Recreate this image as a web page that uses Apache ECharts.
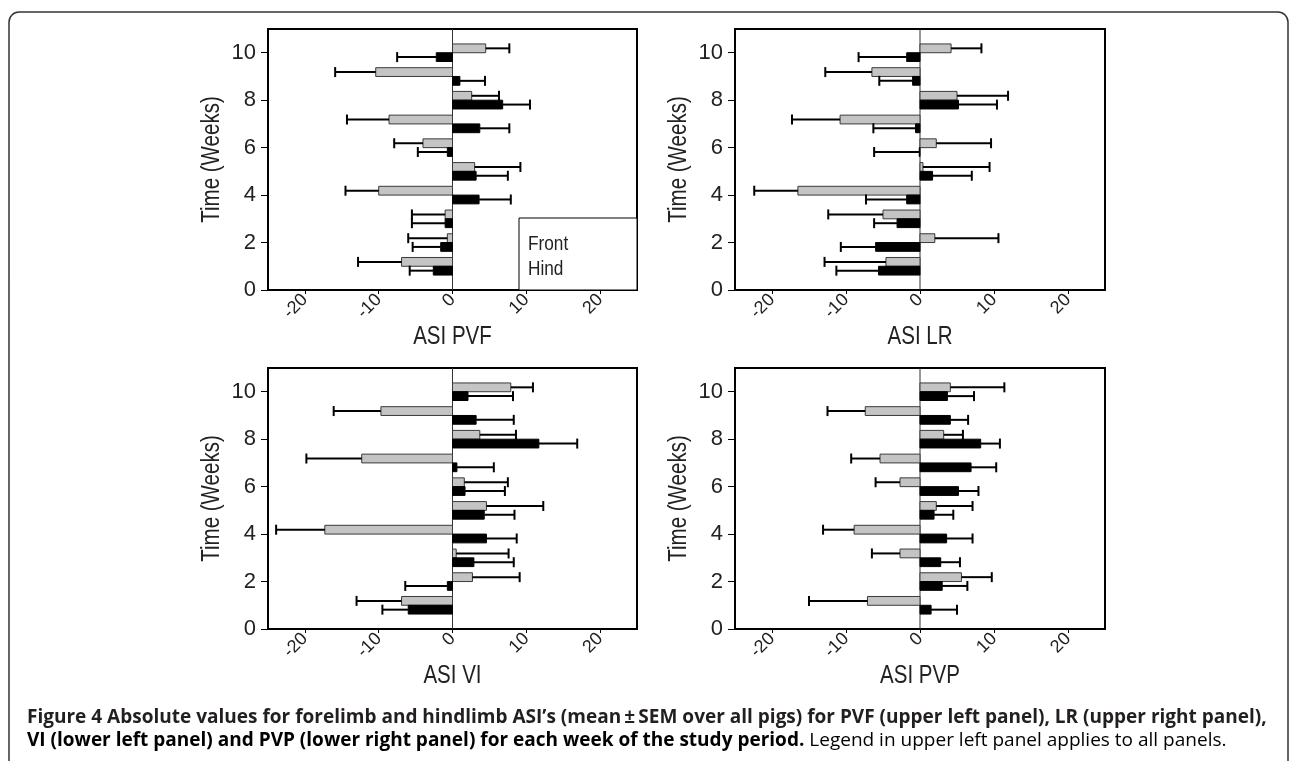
<!DOCTYPE html>
<html>
<head>
<meta charset="utf-8">
<script src="https://cdn.jsdelivr.net/npm/echarts@6/dist/echarts.min.js"></script>
<style>
html,body{margin:0;padding:0;background:#fff;}
#chart{width:1292px;height:761px;}
</style>
</head>
<body>
<div id="chart"></div>
<script>
// ---- data ----
const weeks = [1, 2, 3, 4, 5, 6, 7, 8, 9, 10];
const xTicks = [-20, -10, 0, 10, 20];
const yTicks = [0, 2, 4, 6, 8, 10];
const panelTitles = ['ASI PVF', 'ASI LR', 'ASI VI', 'ASI PVP'];
const yTitle = 'Time (Weeks)';
const legendNames = ['Front', 'Hind'];

const pvfFront    = [-6.9, -0.7, -1.0, -10.0, 3.0, -4.0, -8.6, 2.6, -10.4, 4.5];
const pvfFrontErr = [5.9, 5.3, 4.5, 4.5, 6.2, 3.9, 5.7, 3.7, 5.5, 3.2];
const pvfHind     = [-2.6, -1.6, -1.0, 3.6, 3.2, -0.7, 3.7, 6.8, 1.0, -2.2];
const pvfHindErr  = [3.2, 3.8, 4.5, 4.3, 4.3, 4.0, 4.0, 3.7, 3.4, 5.3];

const lrFront     = [-4.6, 2.0, -5.0, -16.5, 0.4, 2.2, -10.8, 5.0, -6.5, 4.2];
const lrFrontErr  = [8.3, 8.6, 7.4, 5.9, 9.0, 7.4, 6.5, 6.9, 6.3, 4.1];
const lrHind      = [-5.6, -6.0, -3.1, -1.8, 1.7, -0.1, -0.6, 5.2, -1.0, -1.8];
const lrHindErr   = [5.7, 4.7, 3.1, 5.5, 5.3, 6.1, 5.7, 5.2, 4.5, 6.5];

const viFront     = [-6.9, 2.7, 0.5, -17.3, 4.6, 1.6, -12.3, 3.7, -9.7, 7.9];
const viFrontErr  = [6.1, 6.4, 7.1, 6.6, 7.7, 5.9, 7.5, 4.9, 6.4, 3.0];
const viHind      = [-6.0, -0.7, 2.9, 4.6, 4.3, 1.7, 0.6, 11.7, 3.2, 2.1];
const viHindErr   = [3.5, 5.7, 5.4, 4.1, 4.1, 5.4, 5.0, 5.2, 5.1, 6.1];

const pvpFront    = [-7.1, 5.6, -2.7, -8.9, 2.2, -2.7, -5.4, 3.2, -7.4, 4.1];
const pvpFrontErr = [7.9, 4.1, 3.8, 4.2, 4.9, 3.3, 3.9, 2.6, 5.1, 7.3];
const pvpHind     = [1.5, 3.0, 2.8, 3.6, 1.9, 5.2, 6.9, 8.2, 4.1, 3.7];
const pvpHindErr  = [3.5, 3.4, 2.6, 3.5, 2.6, 2.7, 3.4, 2.6, 2.4, 3.6];

const panels = [
  {front: pvfFront, frontErr: pvfFrontErr, hind: pvfHind, hindErr: pvfHindErr},
  {front: lrFront, frontErr: lrFrontErr, hind: lrHind, hindErr: lrHindErr},
  {front: viFront, frontErr: viFrontErr, hind: viHind, hindErr: viHindErr},
  {front: pvpFront, frontErr: pvpFrontErr, hind: pvpHind, hindErr: pvpHindErr}
];

// ---- styling / layout ----
const SANS = "'Liberation Sans', Arial, sans-serif";
const NARROW_SCALE = 0.82;   // reference uses a narrow face
const BAR_T = 0.37;          // bar thickness in week units
const gridPos = [
  {left: 268, top: 29, width: 369, height: 261},
  {left: 735, top: 29, width: 370, height: 261},
  {left: 268, top: 368, width: 369, height: 261},
  {left: 735, top: 368, width: 370, height: 261}
];

function makeRender(isFront) {
  return function (params, api) {
    const w = api.value(0), v = api.value(1), e = api.value(2);
    const y0 = isFront ? w : w - BAR_T;
    const y1 = isFront ? w + BAR_T : w;
    const pA = api.coord([0, y1]);
    const pB = api.coord([v, y0]);
    const yc = api.coord([0, (y0 + y1) / 2])[1];
    const sgn = v < 0 ? -1 : 1;
    const xe0 = api.coord([v, 0])[0];
    const xe1 = api.coord([v + sgn * e, 0])[0];
    return {
      type: 'group',
      children: [
        {type: 'rect', shape: {x: Math.min(pA[0], pB[0]), y: pA[1], width: Math.abs(pB[0] - pA[0]), height: pB[1] - pA[1]},
         style: {fill: isFront ? '#c4c4c4' : '#000', stroke: isFront ? '#3a3a3a' : '#000', lineWidth: 1}},
        {type: 'line', shape: {x1: xe0, y1: yc, x2: xe1, y2: yc}, style: {stroke: '#000', lineWidth: 2}},
        {type: 'line', shape: {x1: xe1, y1: yc - 5, x2: xe1, y2: yc + 5}, style: {stroke: '#000', lineWidth: 2}}
      ]
    };
  };
}

const grids = [], xAxes = [], yAxes = [], series = [], titleGraphics = [];
panels.forEach((p, i) => {
  const g = gridPos[i];
  grids.push(Object.assign({show: true, borderColor: '#000', borderWidth: 2, backgroundColor: 'transparent'}, g));
  xAxes.push({
    type: 'value', gridIndex: i, min: -25, max: 25,
    axisLine: {show: true, onZero: false, lineStyle: {color: '#000', width: 2}},
    axisTick: {show: true, length: 4, customValues: xTicks, lineStyle: {color: '#000', width: 1}},
    axisLabel: {customValues: xTicks, rotate: 45, margin: 7, fontFamily: SANS, fontSize: 18, color: '#222'},
    splitLine: {show: false}
  });
  yAxes.push({
    type: 'value', gridIndex: i, min: 0, max: 11,
    axisLine: {show: true, onZero: false, lineStyle: {color: '#000', width: 2}},
    axisTick: {show: true, length: 7, customValues: yTicks, lineStyle: {color: '#000', width: 1}},
    axisLabel: {customValues: yTicks, margin: 12, fontFamily: SANS, fontSize: 22, color: '#222'},
    splitLine: {show: false}
  });
  series.push({
    type: 'line', xAxisIndex: i, yAxisIndex: i, data: [[0, 0], [0, 11]],
    symbol: 'none', silent: true, lineStyle: {color: '#333', width: 1}, z: 1
  });
  series.push({
    name: legendNames[0], type: 'custom', xAxisIndex: i, yAxisIndex: i,
    renderItem: makeRender(true), encode: {x: 1, y: 0},
    data: weeks.map((w, k) => [w, p.front[k], p.frontErr[k]]), z: 3
  });
  series.push({
    name: legendNames[1], type: 'custom', xAxisIndex: i, yAxisIndex: i,
    renderItem: makeRender(false), encode: {x: 1, y: 0},
    data: weeks.map((w, k) => [w, p.hind[k], p.hindErr[k]]), z: 3
  });
  // axis titles (narrow face emulated with horizontal scale)
  titleGraphics.push({
    type: 'text', x: g.left + g.width / 2, y: g.top + g.height + 47, scaleX: NARROW_SCALE, silent: true,
    style: {text: panelTitles[i], font: '25px ' + SANS, fill: '#222', align: 'center', verticalAlign: 'middle'}
  });
  titleGraphics.push({
    type: 'text', x: g.left - 56, y: g.top + g.height / 2, rotation: Math.PI / 2, scaleX: NARROW_SCALE, silent: true,
    style: {text: yTitle, font: '25px ' + SANS, fill: '#222', align: 'center', verticalAlign: 'middle'}
  });
});

// caption: pick the size that makes line 1 span its width in the reference
const capLine1 = 'Figure 4 Absolute values for forelimb and hindlimb ASI\u2019s (mean\u2009\u00b1\u2009SEM over all pigs) for PVF (upper left panel), LR (upper right panel),';
const capLine2a = 'VI (lower left panel) and PVP (lower right panel) for each week of the study period.';
const capLine2b = ' Legend in upper left panel applies to all panels.';
const CAP_FONT = "'Open Sans', 'Noto Sans', sans-serif";
const ctx = document.createElement('canvas').getContext('2d');
ctx.font = 'bold 100px ' + CAP_FONT;
const capSize = Math.max(10, Math.min(20, 1240 / ctx.measureText(capLine1).width * 100));

const chart = echarts.init(document.getElementById('chart'), null, {renderer: 'canvas'});
chart.setOption({
  animation: false,
  backgroundColor: '#fff',
  grid: grids, xAxis: xAxes, yAxis: yAxes, series: series,
  graphic: titleGraphics.concat([
    {type: 'rect', shape: {x: 9, y: 12, width: 1279, height: 800, r: 10}, style: {fill: 'none', stroke: '#333', lineWidth: 1.5}, silent: true},
    {type: 'rect', shape: {x: 519, y: 218, width: 118, height: 72}, style: {fill: '#fff', stroke: '#000', lineWidth: 1}, z: 10},
    {type: 'text', x: 528, y: 244, z: 11, scaleX: NARROW_SCALE, style: {text: legendNames[0], font: '21px ' + SANS, fill: '#222', verticalAlign: 'middle'}},
    {type: 'text', x: 528, y: 269, z: 11, scaleX: NARROW_SCALE, style: {text: legendNames[1], font: '21px ' + SANS, fill: '#222', verticalAlign: 'middle'}},
    {type: 'text', x: 27, y: 718, style: {text: capLine1, font: 'bold ' + capSize.toFixed(2) + 'px ' + CAP_FONT, fill: '#231f20', verticalAlign: 'middle'}},
    {type: 'text', x: 27, y: 741, style: {
      text: '{b|' + capLine2a + '}{n|' + capLine2b + '}', verticalAlign: 'middle',
      rich: {
        b: {fontFamily: CAP_FONT, fontWeight: 'bold', fontSize: capSize, color: '#231f20'},
        n: {fontFamily: CAP_FONT, fontWeight: 'normal', fontSize: capSize, color: '#4a4a4a'}
      }}}
  ])
});
</script>
</body>
</html>
